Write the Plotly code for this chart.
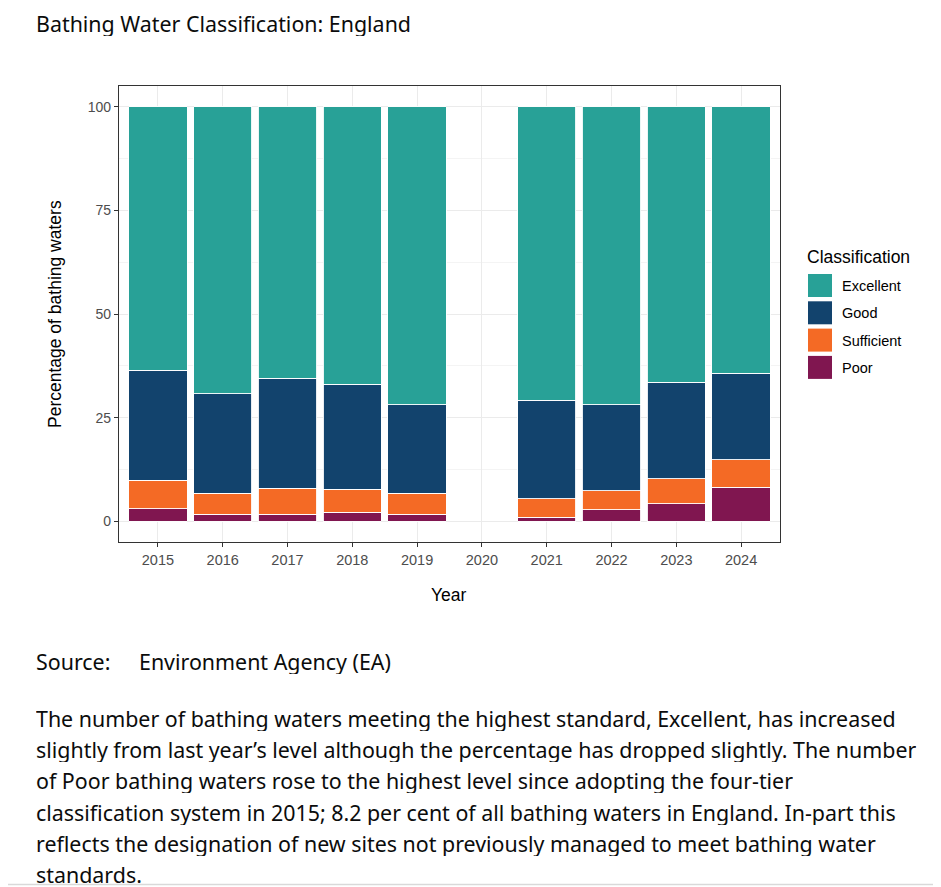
import plotly.graph_objects as go

# bathing water classifications, England (% of bathing waters)
years = ["2015", "2016", "2017", "2018", "2019", "2020", "2021", "2022", "2023", "2024"]
poor = [3.0, 1.7, 1.7, 2.2, 1.7, None, 1.0, 2.8, 4.2, 8.2]
sufficient = [6.9, 5.1, 6.3, 5.5, 5.1, None, 4.4, 4.6, 6.1, 6.6]
good = [26.5, 24.0, 26.5, 25.4, 21.3, None, 23.8, 20.7, 23.2, 20.9]
excellent = [63.6, 69.2, 65.5, 66.9, 71.9, None, 70.8, 71.9, 66.5, 64.3]

classes = ["Excellent", "Good", "Sufficient", "Poor"]
colours = {"Excellent": "#28A197", "Good": "#12436D", "Sufficient": "#F46A25", "Poor": "#801650"}
y_ticks = [0, 25, 50, 75, 100]

paragraph = [
	"The number of bathing waters meeting the highest standard, Excellent, has increased",
	"slightly from last year\u2019s level although the percentage has dropped slightly. The number",
	"of Poor bathing waters rose to the highest level since adopting the four-tier",
	"classification system in 2015; 8.2 per cent of all bathing waters in England. In-part this",
	"reflects the designation of new sites not previously managed to meet bathing water",
	"standards.",
]

# the page body puts the figure 8px in from the top-left corner
OFF = 8
W, H = 941 - OFF, 887 - OFF
# plot panel in screen pixels
P_LEFT, P_RIGHT, P_TOP, P_BOTTOM = 119, 780, 86, 542

def px(x):
	return (x - P_LEFT) / (P_RIGHT - P_LEFT)

def py(y):
	return (P_BOTTOM - y) / (P_BOTTOM - P_TOP)

CHART_FONT = "Liberation Sans, Arial, sans-serif"
PAGE_FONT = "Noto Sans, sans-serif"
PAGE_SIZE = 21.4

fig = go.Figure()

# stack from the bottom up: Poor, Sufficient, Good, Excellent
for name, values in [("Poor", poor), ("Sufficient", sufficient), ("Good", good), ("Excellent", excellent)]:
	fig.add_trace(go.Bar(
		x = years,
		y = values,
		name = name,
		width = 0.9,
		marker = {"color": colours[name], "line": {"color": "white", "width": 0.9}},
		showlegend = False,
	))

annotations = []
shapes = []

def page_text(text, x, y):
	# annotation box adds ~2px padding on the left
	annotations.append(dict(
		text = text, xref = "paper", yref = "paper",
		x = px(x - 2), y = py(y), xanchor = "left", yanchor = "middle", showarrow = False,
		height = 26, valign = "middle",
		font = {"family": PAGE_FONT, "size": PAGE_SIZE, "color": "#0B0C0C"},
	))

# page title
page_text("Bathing Water Classification: England", 36, 23)

# axis titles
annotations.append(dict(
	text = "Percentage of bathing waters", xref = "paper", yref = "paper",
	x = px(55), y = py(314), xanchor = "center", yanchor = "middle", textangle = -90,
	showarrow = False, font = {"family": CHART_FONT, "size": 17.5, "color": "black"},
))
annotations.append(dict(
	text = "Year", xref = "paper", yref = "paper",
	x = px(449), y = py(595), xanchor = "center", yanchor = "middle",
	showarrow = False, font = {"family": CHART_FONT, "size": 17.5, "color": "black"},
))

# legend drawn by hand to get ggplot-style keys
annotations.append(dict(
	text = "Classification", xref = "paper", yref = "paper",
	x = px(805), y = py(257), xanchor = "left", yanchor = "middle",
	showarrow = False, font = {"family": CHART_FONT, "size": 17.5, "color": "black"},
))
for i, name in enumerate(classes):
	top = 274 + i * 27.3
	shapes.append(dict(
		type = "rect", xref = "paper", yref = "paper",
		x0 = px(808), x1 = px(832), y0 = py(top + 23), y1 = py(top),
		fillcolor = colours[name], line = {"width": 0},
	))
	annotations.append(dict(
		text = name, xref = "paper", yref = "paper",
		x = px(840), y = py(top + 12), xanchor = "left", yanchor = "middle",
		showarrow = False, font = {"family": CHART_FONT, "size": 14.5, "color": "black"},
	))

# source and commentary below the chart
page_text("Source:", 36, 661)
page_text("Environment Agency (EA)", 139, 661)
for i, line in enumerate(paragraph):
	page_text(line, 36, 718 + i * 31.2)

# faint page rule at the bottom
shapes.append(dict(
	type = "line", xref = "paper", yref = "paper",
	x0 = px(0), x1 = px(941), y0 = py(884.5), y1 = py(884.5),
	line = {"color": "#D9D9D9", "width": 1.5},
))

fig.update_layout(
	width = W,
	height = H,
	margin = {"l": P_LEFT - OFF, "r": W + OFF - P_RIGHT, "t": P_TOP - OFF, "b": H + OFF - P_BOTTOM, "pad": 0},
	paper_bgcolor = "white",
	plot_bgcolor = "white",
	barmode = "stack",
	bargap = 0.1,
	showlegend = False,
	annotations = annotations,
	shapes = shapes,
	font = {"family": CHART_FONT},
	xaxis = {
		"type": "category",
		"categoryorder": "array",
		"categoryarray": years,
		"range": [-0.6, 9.6],
		"showgrid": True,
		"gridcolor": "#EBEBEB",
		"gridwidth": 1,
		"showline": True,
		"linecolor": "#333333",
		"linewidth": 1.2,
		"mirror": True,
		"ticks": "outside",
		"ticklen": 4,
		"tickcolor": "#333333",
		"tickfont": {"family": CHART_FONT, "size": 14.5, "color": "#4D4D4D"},
		"fixedrange": True,
	},
	yaxis = {
		"range": [-5, 105],
		"tickvals": y_ticks,
		"showgrid": True,
		"gridcolor": "#EBEBEB",
		"gridwidth": 1,
		"minor": {"dtick": 12.5, "showgrid": True, "gridcolor": "#F4F4F4", "gridwidth": 0.6},
		"zeroline": False,
		"showline": True,
		"linecolor": "#333333",
		"linewidth": 1.2,
		"mirror": True,
		"ticks": "outside",
		"ticklen": 4,
		"tickcolor": "#333333",
		"tickfont": {"family": CHART_FONT, "size": 14, "color": "#4D4D4D"},
		"fixedrange": True,
	},
)

fig.write_html("out.html")
